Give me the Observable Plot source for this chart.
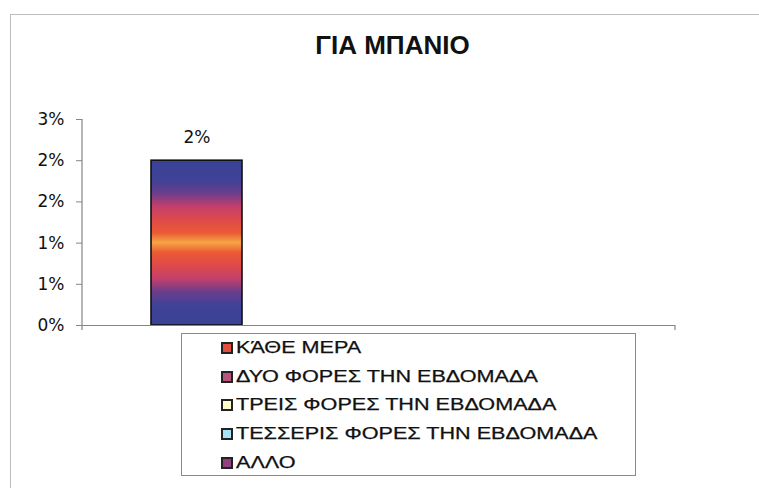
<!DOCTYPE html>
<html>
<head>
<meta charset="utf-8">
<script src="https://cdn.jsdelivr.net/npm/d3@7"></script>
<script src="https://cdn.jsdelivr.net/npm/@observablehq/plot@0.6"></script>
<style>
  html, body { margin: 0; padding: 0; background: #fff; }
  #wrap { position: relative; width: 759px; height: 488px; overflow: hidden; background: #fff; }
  #wrap svg { position: absolute; left: 0; top: 0; }
  #frame { position: absolute; left: 10px; top: 14px; width: 800px; height: 500px;
           border-left: 1.5px solid #bdbdbd; border-top: 1.5px solid #bdbdbd; }
  #title { position: absolute; left: 0; width: 785px; top: 30px; text-align: center;
           font: bold 26px "Liberation Sans", Arial, sans-serif; color: #111; }
  #legend { position: absolute; left: 181px; top: 333px; width: 453px; height: 141px;
            border: 1px solid #8a8a8a; background: #fff; }
  .item { position: absolute; left: 39px; height: 20px; display: flex; align-items: center; }
  .sw { width: 8px; height: 8px; border: 2px solid #222; margin-right: 3px; flex: none; }
  .lab { font: 16px "Liberation Sans", Arial, sans-serif; color: #111; white-space: nowrap;
         transform: scaleX(1.35); transform-origin: left center; display: inline-block;
         -webkit-text-stroke: 0.25px #111; }
</style>
</head>
<body>
<div id="wrap">
  <div id="frame"></div>
</div>
<script>
// ---- data ----
const title = "ΓΙΑ ΜΠΑΝΙΟ";
const series = ["ΚΆΘΕ ΜΕΡΑ", "ΔΥΟ ΦΟΡΕΣ ΤΗΝ ΕΒΔΟΜΑΔΑ", "ΤΡΕΙΣ ΦΟΡΕΣ ΤΗΝ ΕΒΔΟΜΑΔΑ", "ΤΕΣΣΕΡΙΣ ΦΟΡΕΣ ΤΗΝ ΕΒΔΟΜΑΔΑ", "ΑΛΛΟ"];
const values = [0.02, null, null, null, null];
const valueLabels = ["2%", "", "", "", ""];
const seriesColors = ["#e0503c", "#b9537a", "#ffffcc", "#a8e2f6", "#933f7f"];
const yTicks = [0, 0.005, 0.01, 0.015, 0.02, 0.025];
const yTickLabels = ["0%", "1%", "1%", "2%", "2%", "3%"];

const data = series.map((s, i) => ({series: s, value: values[i], label: valueLabels[i]}))
  .filter(d => d.value != null);

const W = 759, H = 488;
const mL = 82, mR = 84, mT = 119, mB = 163;

function gradientDefs() {
  const defs = d3.create("svg:defs");
  const g = defs.append("linearGradient").attr("id", "barGrad")
    .attr("x1", 0).attr("y1", 0).attr("x2", 0).attr("y2", 1);
  const stops = [
    [0, "#3a4397"], [0.12, "#3f4296"], [0.20, "#6a3d8c"], [0.28, "#c2406c"],
    [0.36, "#de4a4a"], [0.44, "#ea5a34"], [0.5, "#f7a544"], [0.56, "#ea5a34"],
    [0.64, "#de4a4a"], [0.72, "#c2406c"], [0.80, "#6a3d8c"], [0.88, "#3f4296"], [1, "#3a4397"]
  ];
  stops.forEach(([o, c]) => g.append("stop").attr("offset", o).attr("stop-color", c));
  return defs.node();
}

function axisLines(index, scales, values, dims) {
  const g = d3.create("svg:g").attr("stroke", "#858585").attr("stroke-width", 1.2).attr("fill", "none");
  const x0 = dims.marginLeft, x1 = dims.width - dims.marginRight;
  const y0 = dims.marginTop, y1 = dims.height - dims.marginBottom;
  g.append("line").attr("x1", x0).attr("x2", x0).attr("y1", y0).attr("y2", y1 + 5);
  g.append("line").attr("x1", x1).attr("x2", x1).attr("y1", y1).attr("y2", y1 + 5);
  return g.node();
}

const chart = Plot.plot({
  width: W, height: H,
  marginLeft: mL, marginRight: mR, marginTop: mT, marginBottom: mB,
  style: {fontFamily: "'DejaVu Sans', sans-serif", background: "transparent"},
  x: {domain: series, paddingInner: 0, paddingOuter: 0.723, axis: null},
  y: {domain: [0, 0.025]},
  marks: [
    gradientDefs,
    Plot.axisY({ticks: yTicks, tickFormat: d => yTickLabels[yTicks.indexOf(d)], label: null,
      tickSize: 6, tickPadding: 12, fontSize: 17, stroke: "#858585", fill: "#111"}),
    Plot.barY(data, {x: "series", y: "value", fill: "url(#barGrad)", stroke: "#111", strokeWidth: 1.6, inset: 0}),
    Plot.ruleY([0], {stroke: "#858585", strokeWidth: 1.2}),
    axisLines,
    Plot.text(data, {x: "series", y: "value", text: "label", dy: -23, fontSize: 17, fill: "#111"})
  ]
});

const wrap = document.getElementById("wrap");
wrap.appendChild(chart);

const t = document.createElement("div");
t.id = "title"; t.textContent = title;
wrap.appendChild(t);

const leg = document.createElement("div");
leg.id = "legend";
series.forEach((s, i) => {
  const it = document.createElement("div");
  it.className = "item";
  it.style.top = (4 + i * 28.7) + "px";
  const sw = document.createElement("span");
  sw.className = "sw"; sw.style.background = seriesColors[i];
  const lb = document.createElement("span");
  lb.className = "lab"; lb.textContent = s;
  it.appendChild(sw); it.appendChild(lb);
  leg.appendChild(it);
});
wrap.appendChild(leg);
</script>
</body>
</html>
